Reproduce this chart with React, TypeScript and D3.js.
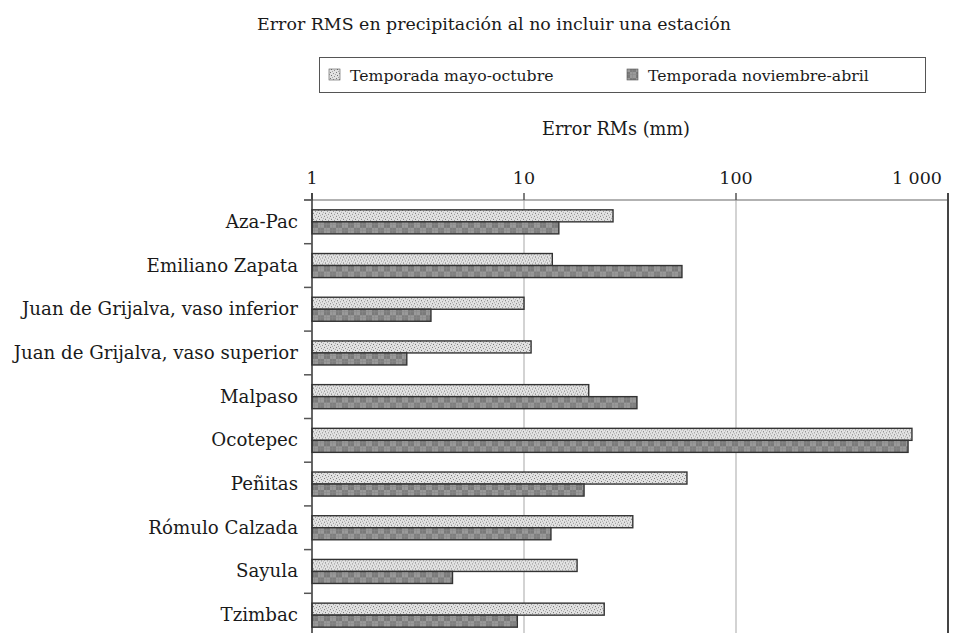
import React from "react";
import * as d3 from "d3";

// Stations (top to bottom)
const stations = [
  "Aza-Pac",
  "Emiliano Zapata",
  "Juan de Grijalva, vaso inferior",
  "Juan de Grijalva, vaso superior",
  "Malpaso",
  "Ocotepec",
  "Peñitas",
  "Rómulo Calzada",
  "Sayula",
  "Tzimbac",
];

// RMS error (mm), season May–October
const mayoOctubre = [26.3, 13.6, 10.0, 10.8, 20.2, 676, 58.7, 32.6, 17.8, 23.9];
// RMS error (mm), season November–April
const noviembreAbril = [14.6, 55.6, 3.64, 2.8, 34.1, 648, 19.2, 13.4, 4.6, 9.3];

const seriesNames = ["Temporada mayo-octubre", "Temporada noviembre-abril"];
const tickValues = [1, 10, 100, 1000];
const tickLabels = ["1", "10", "100", "1 000"];

const W = 969;
const H = 633;
const FONT = "'Palatino Linotype', 'Book Antiqua', Palatino, 'DejaVu Serif', serif";

export default function App() {
  const x = d3.scaleLog().domain([1, 1000]).range([312, 948]);
  const y = d3
    .scaleBand<string>()
    .domain(stations)
    .range([200, 637])
    .paddingInner(0.45)
    .paddingOuter(0.225);
  const step = y.step();
  const sub = d3
    .scaleBand<number>()
    .domain([0, 1])
    .range([0, y.bandwidth()]);
  const fills = ["url(#patLight)", "url(#patDark)"];
  const values = [mayoOctubre, noviembreAbril];
  const boundaries = d3.range(stations.length + 1).map((i) => 200 + i * step);
  const lastTick = tickValues.length - 1;

  return (
    <svg
      width={W}
      height={H}
      style={{ position: "absolute", left: 0, top: 0, background: "#fff" }}
      fontFamily={FONT}
    >
      <defs>
        <pattern id="patLight" width="6" height="6" patternUnits="userSpaceOnUse">
          <rect width="6" height="6" fill="#e2e2e2" />
          <rect x="0" y="0" width="1" height="1" fill="#7a7a7a" />
          <rect x="3" y="1" width="1" height="1" fill="#8e8e8e" />
          <rect x="1" y="3" width="1" height="1" fill="#707070" />
          <rect x="4" y="4" width="1" height="1" fill="#8e8e8e" />
          <rect x="2" y="5" width="1" height="1" fill="#a8a8a8" />
          <rect x="5" y="2" width="1" height="1" fill="#a8a8a8" />
        </pattern>
        <pattern id="patDark" width="12" height="12" patternUnits="userSpaceOnUse">
          <rect width="12" height="12" fill="#9a9a9a" />
          <rect x="0" y="0" width="6" height="6" fill="#7a7a7a" />
          <rect x="6" y="6" width="6" height="6" fill="#7e7e7e" />
          <path d="M0 2.5H12M0 8.5H12" stroke="#8a8a8a" strokeWidth="0.6" />
          <path d="M2.5 0V12M8.5 0V12" stroke="#8a8a8a" strokeWidth="0.6" />
        </pattern>
      </defs>

      {/* Title */}
      <text x={494} y={30} textAnchor="middle" fontSize={17.4} fill="#1a1a1a">
        Error RMS en precipitación al no incluir una estación
      </text>

      {/* Legend */}
      <g>
        <rect x={319.5} y={57.5} width={606} height={35} fill="#fff" stroke="#555" strokeWidth={1} />
        {seriesNames.map((name, i) => {
          const lx = i === 0 ? 329 : 627;
          return (
            <g key={name}>
              <rect x={lx} y={69} width={11} height={11} fill={fills[i]} stroke="#555" strokeWidth={0.6} />
              <text x={lx + 21} y={81} fontSize={15.7} fill="#1a1a1a">
                {name}
              </text>
            </g>
          );
        })}
      </g>

      {/* Axis title */}
      <text x={616} y={135} textAnchor="middle" fontSize={17.7} fill="#1a1a1a">
        Error RMs (mm)
      </text>

      {/* Grid lines */}
      {tickValues.slice(1, -1).map((t) => (
        <line key={t} x1={x(t)} x2={x(t)} y1={200} y2={H} stroke="#c4c4c4" strokeWidth={1.5} />
      ))}

      {/* Top value axis */}
      <line x1={304} x2={948} y1={200} y2={200} stroke="#999" strokeWidth={1.5} />
      {tickValues.map((t, i) => (
        <g key={t}>
          <line x1={x(t)} x2={x(t)} y1={193} y2={200} stroke="#555" strokeWidth={1.5} />
          <text
            x={i === lastTick ? x(t) - 6 : x(t)}
            y={184}
            textAnchor={i === lastTick ? "end" : "middle"}
            fontSize={17.5}
            fill="#1a1a1a"
          >
            {tickLabels[i]}
          </text>
        </g>
      ))}
      <line x1={948} x2={948} y1={193} y2={H} stroke="#444" strokeWidth={2} />

      {/* Bars */}
      {stations.map((s, i) => (
        <g key={s} transform={`translate(0,${y(s)})`}>
          {values.map((vals, k) => (
            <rect
              key={k}
              x={x(1)}
              y={sub(k)}
              width={x(vals[i]) - x(1)}
              height={sub.bandwidth()}
              fill={fills[k]}
              stroke="#333"
              strokeWidth={1.4}
            />
          ))}
        </g>
      ))}

      {/* Category axis */}
      <line x1={312} x2={312} y1={193} y2={H} stroke="#333" strokeWidth={1.5} />
      {boundaries.map((b, i) => (
        <line key={i} x1={304} x2={312} y1={b} y2={b} stroke="#555" strokeWidth={1.5} />
      ))}
      {stations.map((s) => (
        <text
          key={s}
          x={298}
          y={(y(s) as number) + y.bandwidth() / 2 + 6}
          textAnchor="end"
          fontSize={18.2}
          fill="#1a1a1a"
        >
          {s}
        </text>
      ))}
    </svg>
  );
}
